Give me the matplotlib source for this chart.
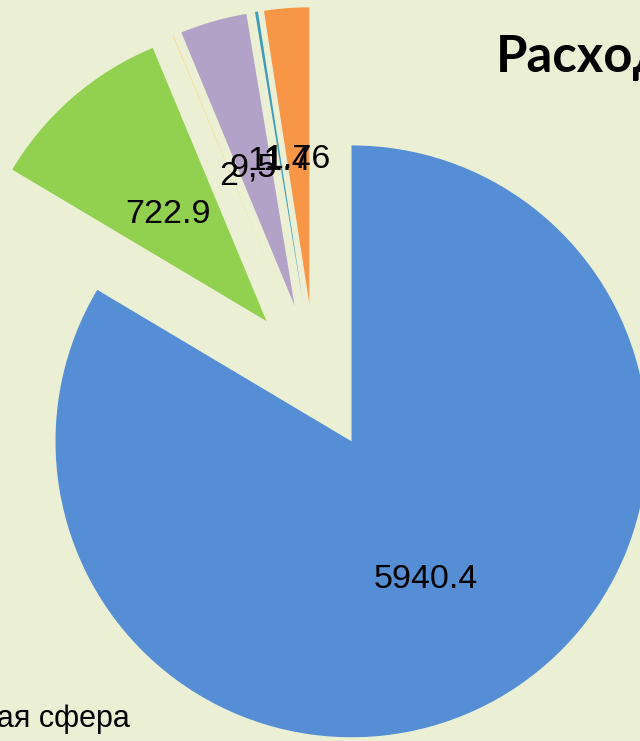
import matplotlib
matplotlib.use("Agg")
import matplotlib.pyplot as plt
from matplotlib.transforms import offset_copy

# slice sizes (clockwise from 12 o'clock)
values = [5940.4, 722.9, 2, 259, 11.4, 174]
labels = ["5940.4", "722.9", "2", "9,5", "11.4", "1.76"]
colors = ["#558ed5", "#92d050", "#fcd55c", "#b3a2c7", "#3f9cb8", "#f79646"]
title = "Расходы"
legend_entry = "Социальная сфера"


def main():
    bg = "#ebf0d5"
    fig = plt.figure(figsize=(6.4, 7.41), dpi=100, facecolor=bg)
    ax = fig.add_axes([0, 0, 1, 1])
    ax.set_facecolor(bg)

    wedges, texts = ax.pie(
        values,
        labels=labels,
        colors=colors,
        startangle=90,
        counterclock=False,
        explode=[0.25] * len(values),
        labeldistance=0.51,
        wedgeprops={"linewidth": 0},
        textprops={"fontsize": 24.5, "family": "Liberation Sans", "color": "black"},
    )
    # labels sit a little lower than matplotlib puts them
    shifted = offset_copy(ax.transData, fig=fig, x=0, y=-7, units="dots")
    for t in texts:
        t.set_ha("center")
        t.set_va("center")
        t.set_transform(shifted)

    # the picture is a crop of a bigger chart: keep the same window
    ax.set_xlim(-1.064, 1.098)
    ax.set_ylim(-1.230, 1.274)
    ax.set_aspect("auto")
    ax.axis("off")

    fig.text(496 / 640, 1 - 72 / 741, title, fontsize=36.5, fontweight="bold",
             family="Lato", ha="left", va="baseline")
    fig.text(130 / 640, 1 - 727 / 741, legend_entry, fontsize=22,
             family="Liberation Sans", ha="right", va="baseline")

    fig.savefig("out.png", dpi=100, facecolor=bg)
    plt.close(fig)


if __name__ == "__main__":
    main()
